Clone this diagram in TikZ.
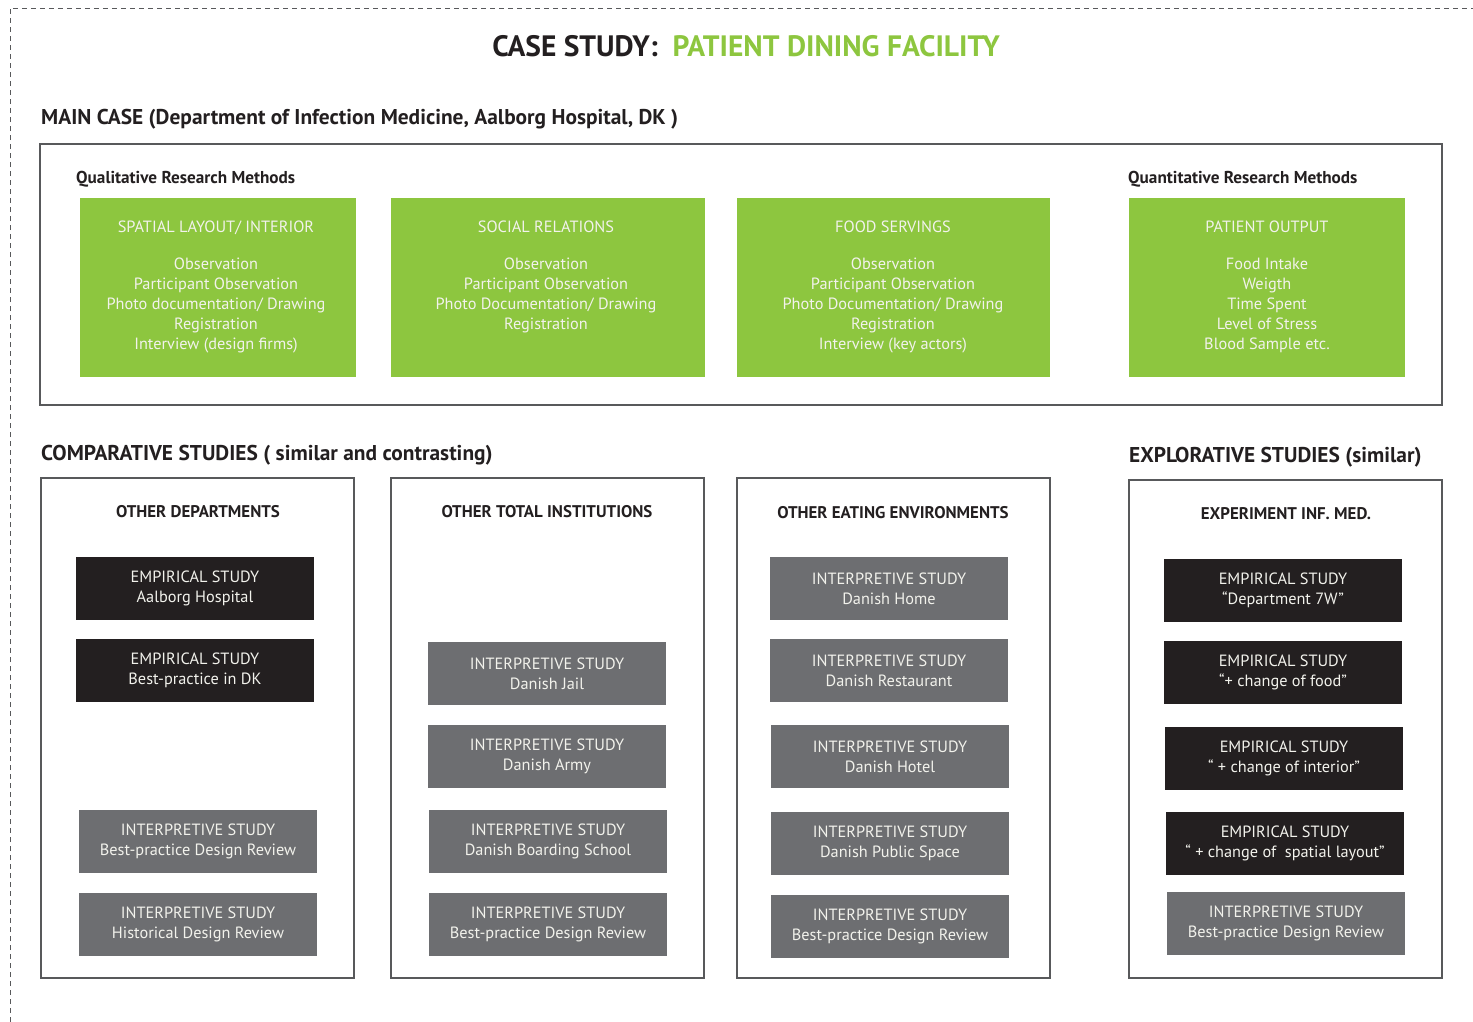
\documentclass[tikz,border=0pt]{standalone}
\usepackage{fontspec}
\setmainfont{PT Sans}
\usepackage{xcolor}
\usetikzlibrary{positioning}
\definecolor{leafgreen}{HTML}{8DC63F}
\definecolor{darkbox}{HTML}{231F20}
\definecolor{greybox}{HTML}{6D6E71}
\definecolor{framegrey}{HTML}{58595B}
\definecolor{boxtext}{HTML}{F2F2EC}

\begin{document}
\begin{tikzpicture}
[x = 1pt, y = -1pt,
 every node/.style = {text = darkbox},
 frame/.style = {draw = framegrey, line width = 1.3pt, inner sep = 0pt},
 methods/.style = {fill = leafgreen, inner sep = 0pt, minimum height = 179pt},
 methodtext/.style = {text = boxtext, align = center, inner sep = 0pt,
   anchor = north, font = \fontsize{16.3}{20}\selectfont},
 study/.style = {text = boxtext, align = center, inner sep = 0pt,
   minimum width = 238pt, minimum height = 63pt,
   font = \fontsize{16.3}{20}\selectfont},
 empirical/.style = {study, fill = darkbox},
 interpretive/.style = {study, fill = greybox},
 heading/.style = {anchor = base west, inner sep = 0pt,
   font = \fontsize{21.4}{24}\selectfont\bfseries},
 subhead/.style = {anchor = base west, inner sep = 0pt,
   font = \fontsize{17.2}{20}\selectfont\bfseries},
 colhead/.style = {anchor = base, inner sep = 0pt,
   font = \fontsize{16.9}{20}\selectfont\bfseries}]

\useasboundingbox (0,0) rectangle (1473,1022);
\draw[dashed, framegrey, line width = 0.8pt, dash pattern = on 5pt off 4pt]
  (10,1022) -- (10,8) -- (1473,8);

\node[anchor = base, inner sep = 0pt] (title) at (746,57)
  {\fontsize{29.5}{32}\selectfont\bfseries CASE STUDY:\ \ \textcolor{leafgreen}{PATIENT DINING FACILITY}};

% main case
\node[heading] (mainhead) at (41,125)
  {MAIN CASE (Department of Infection Medicine, Aalborg Hospital, DK )};
\node[frame, minimum width = 1402pt, minimum height = 261pt] (maincase) at (741,274.5) {};
\node[subhead] (quali) at (76,183) {Qualitative Research Methods};
\node[subhead] (quanti) at (1128,183) {Quantitative Research Methods};

\node[methods, minimum width = 276pt] (spatial) at (218,287.5) {};
\node[methods, minimum width = 314pt] (social) at (548,287.5) {};
\node[methods, minimum width = 313pt] (food) at (893.5,287.5) {};
\node[methods, minimum width = 276pt] (output) at (1267,287.5) {};

\node[methodtext] (spatialtxt) at (216,218.5)
  {\strut SPATIAL LAYOUT/ INTERIOR\\[17pt] Observation\\ Participant Observation\\
   Photo documentation/ Drawing\\ Registration\\ Interview (design firms)};
\node[methodtext] (socialtxt) at (546,218.5)
  {\strut SOCIAL RELATIONS\\[17pt] Observation\\ Participant Observation\\
   Photo Documentation/ Drawing\\ Registration};
\node[methodtext] (foodtxt) at (893,218.5)
  {\strut FOOD SERVINGS\\[17pt] Observation\\ Participant Observation\\
   Photo Documentation/ Drawing\\ Registration\\ Interview (key actors)};
\node[methodtext] (outputtxt) at (1267,218.5)
  {\strut PATIENT OUTPUT\\[17pt] Food Intake\\ Weigth\\ Time Spent\\
   Level of Stress\\ Blood Sample etc.};

% comparative and explorative studies
\node[heading] (comphead) at (41,460)
  {COMPARATIVE STUDIES ( similar and contrasting)};
\node[heading] (explhead) at (1129,462) {EXPLORATIVE STUDIES (similar)};

\node[frame, minimum width = 313pt, minimum height = 500pt] (otherdep) at (197.5,728) {};
\node[frame, minimum width = 313pt, minimum height = 500pt] (othertot) at (547.5,728) {};
\node[frame, minimum width = 313pt, minimum height = 500pt] (othereat) at (893.5,728) {};
\node[frame, minimum width = 313pt, minimum height = 498pt] (expmed) at (1285.5,729) {};

\node[colhead] (dephead) at (198,517) {OTHER DEPARTMENTS};
\node[colhead] (tothead) at (547,517) {OTHER TOTAL INSTITUTIONS};
\node[colhead] (eathead) at (893,518) {OTHER EATING ENVIRONMENTS};
\node[colhead] (medhead) at (1286,519) {EXPERIMENT INF. MED.};

\node[empirical] (dep1) at (195,588.5) {EMPIRICAL STUDY\\ Aalborg Hospital};
\node[empirical] (dep2) at (195,670.5) {EMPIRICAL STUDY\\ Best-practice in DK};
\node[interpretive] (dep3) at (198,841.5) {INTERPRETIVE STUDY\\ Best-practice Design Review};
\node[interpretive] (dep4) at (198,924.5) {INTERPRETIVE STUDY\\ Historical Design Review};

\node[interpretive] (tot1) at (547,673.5) {INTERPRETIVE STUDY\\ Danish Jail};
\node[interpretive] (tot2) at (547,756.5) {INTERPRETIVE STUDY\\ Danish Army};
\node[interpretive] (tot3) at (548,841.5) {INTERPRETIVE STUDY\\ Danish Boarding School};
\node[interpretive] (tot4) at (548,924.5) {INTERPRETIVE STUDY\\ Best-practice Design Review};

\node[interpretive] (eat1) at (889,588.5) {INTERPRETIVE STUDY\\ Danish Home};
\node[interpretive] (eat2) at (889,670.5) {INTERPRETIVE STUDY\\ Danish Restaurant};
\node[interpretive] (eat3) at (890,756.5) {INTERPRETIVE STUDY\\ Danish Hotel};
\node[interpretive] (eat4) at (890,843.5) {INTERPRETIVE STUDY\\ Danish Public Space};
\node[interpretive] (eat5) at (890,926.5) {INTERPRETIVE STUDY\\ Best-practice Design Review};

\node[empirical] (med1) at (1283,590.5) {EMPIRICAL STUDY\\ “Department 7W”};
\node[empirical] (med2) at (1283,672.5) {EMPIRICAL STUDY\\ “+ change of food”};
\node[empirical] (med3) at (1284,758.5) {EMPIRICAL STUDY\\ “ + change of interior”};
\node[empirical] (med4) at (1285,843.5) {EMPIRICAL STUDY\\ “ + change of \ spatial layout”};
\node[interpretive] (med5) at (1286,923.5) {INTERPRETIVE STUDY\\ Best-practice Design Review};

\end{tikzpicture}
\end{document}
